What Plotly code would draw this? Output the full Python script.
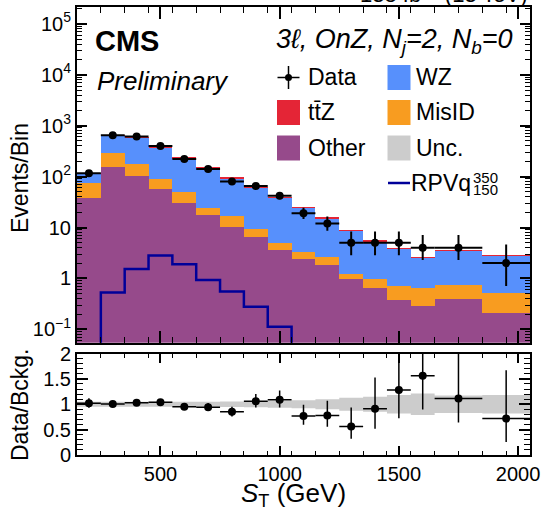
import plotly.graph_objects as go
import numpy as np

# ---------------- data ----------------
bin_edges = [150, 250, 350, 450, 550, 650, 750, 850, 950, 1050, 1150, 1250, 1350, 1450, 1550, 1650, 1850, 2050]
bin_centers = [200, 300, 400, 500, 600, 700, 800, 900, 1000, 1100, 1200, 1300, 1400, 1500, 1600, 1750, 1950]
bin_halfwidths = [50, 50, 50, 50, 50, 50, 50, 50, 50, 50, 50, 50, 50, 50, 50, 100, 100]

data_counts = [116, 648, 610, 400, 222, 141, 80, 65, 42, 19, 12, 5, 5, 5, 4, 4, 2]
data_err_up = [11.3, 26.0, 25.2, 20.5, 15.4, 12.4, 9.5, 8.6, 7.0, 5.4, 4.5, 3.38, 3.38, 3.38, 3.16, 3.16, 2.64]
data_err_dn = [10.3, 25.0, 24.2, 19.5, 14.4, 11.4, 8.4, 7.6, 6.0, 4.3, 3.4, 2.16, 2.16, 2.16, 1.70, 1.70, 1.29]

bkg_other = [38.7, 157, 103, 56.5, 30.0, 17.7, 10.3, 6.6, 3.6, 2.4, 1.8, 0.96, 0.66, 0.38, 0.29, 0.39, 0.21]
bkg_misid = [35.5, 131, 75, 32.4, 20.7, 6.6, 6.5, 2.8, 1.4, 0.9, 0.85, 0.28, 0.30, 0.33, 0.36, 0.34, 0.31]
bkg_wz = [38.5, 349.6, 408, 290.7, 180, 123.2, 76.3, 51.2, 33.1, 21.2, 12.6, 7.54, 4.46, 3.14, 1.88, 2.83, 2.24]
bkg_ttz = [1, 6, 6, 5, 3, 2, 1, 0.7, 0.4, 0.2, 0.15, 0.15, 0.07, 0.06, 0.03, 0.04, 0.02]

# signal (values below the visible range where the line drops off the axis)
sig_rpv = [0.001, 0.53, 1.54, 2.81, 1.90, 0.935, 0.551, 0.279, 0.113, 0.001, 0.001, 0.001, 0.001, 0.001, 0.001, 0.001, 0.001]

# relative background uncertainty
unc_rel = [0.05, 0.05, 0.05, 0.05, 0.05, 0.05, 0.055, 0.06, 0.07, 0.08, 0.10, 0.13, 0.15, 0.18, 0.21, 0.17, 0.18]

y_tickvals = [0.1, 1, 10, 100, 1000, 10000, 100000]
y_ticktext = ["10<sup>\u22121</sup>", "1", "10", "10<sup>2</sup>", "10<sup>3</sup>", "10<sup>4</sup>", "10<sup>5</sup>"]
x_tickvals = [500, 1000, 1500, 2000]
r_tickvals = [0, 0.5, 1, 1.5, 2]
r_ticktext = ["0", "0.5", "1", "1.5", "2"]

# ---------------- styling ----------------
C_OTHER = "#964a8b"
C_MISID = "#f89c20"
C_WZ = "#5790fc"
C_TTZ = "#e42536"
C_UNC = "#cccccc"
C_SIG = "#000099"
FONT = "Liberation Sans"

W, H = 545, 512
ML, MR, MT, MB = 77, 15, 7, 57
PW, PH = W - ML - MR, H - MT - MB


def px(x):
    return (x - ML) / PW


def py(y):
    return (H - MB - y) / PH


main_dom = [py(342.7), 1.0]
ratio_dom = [0.0, py(353.5)]

centers = np.array(bin_centers, dtype=float)
widths = 2 * np.array(bin_halfwidths, dtype=float)
total = np.array(bkg_other) + np.array(bkg_misid) + np.array(bkg_wz) + np.array(bkg_ttz)
ratio = np.array(data_counts) / total
ratio_up = np.array(data_err_up) / total
ratio_dn = np.array(data_err_dn) / total

fig = go.Figure()

for name, vals, col in [("Other", bkg_other, C_OTHER), ("MisID", bkg_misid, C_MISID),
                        ("WZ", bkg_wz, C_WZ), ("ttZ", bkg_ttz, C_TTZ)]:
    fig.add_trace(go.Bar(x=centers, y=vals, width=widths, marker=dict(color=col, line=dict(width=0)),
                         name=name, xaxis="x", yaxis="y", showlegend=False))

sig_y = list(sig_rpv) + [sig_rpv[-1]]
fig.add_trace(go.Scatter(x=bin_edges, y=sig_y, mode="lines", line=dict(color=C_SIG, width=2.5, shape="hv"),
                         xaxis="x", yaxis="y", showlegend=False))

fig.add_trace(go.Scatter(x=centers, y=data_counts, mode="markers",
                         marker=dict(color="black", size=8),
                         error_y=dict(type="data", array=data_err_up, arrayminus=data_err_dn,
                                      color="black", thickness=2, width=0),
                         error_x=dict(type="data", array=bin_halfwidths, color="black", thickness=2, width=0),
                         xaxis="x", yaxis="y", showlegend=False))

# ratio band
lo = list(1 - np.array(unc_rel)) + [1 - unc_rel[-1]]
hi = list(1 + np.array(unc_rel)) + [1 + unc_rel[-1]]
fig.add_trace(go.Scatter(x=bin_edges, y=lo, mode="lines", line=dict(width=0, shape="hv", color=C_UNC),
                         xaxis="x2", yaxis="y2", showlegend=False))
fig.add_trace(go.Scatter(x=bin_edges, y=hi, mode="lines", line=dict(width=0, shape="hv", color=C_UNC),
                         fill="tonexty", fillcolor=C_UNC, xaxis="x2", yaxis="y2", showlegend=False))

fig.add_trace(go.Scatter(x=centers, y=ratio, mode="markers",
                         marker=dict(color="black", size=8),
                         error_y=dict(type="data", array=ratio_up, arrayminus=ratio_dn,
                                      color="black", thickness=1.5, width=0),
                         error_x=dict(type="data", array=bin_halfwidths, color="black", thickness=1.5, width=0),
                         xaxis="x2", yaxis="y2", showlegend=False))

axis_common = dict(showline=True, linecolor="black", linewidth=2, mirror="allticks", ticks="inside",
                   tickcolor="black", tickwidth=1.5, showgrid=False, zeroline=False, automargin=False,
                   tickfont=dict(family=FONT, size=20, color="black"))

minor_log = [m * 10.0 ** e for e in range(-2, 6) for m in range(2, 10)]

fig.update_layout(
    width=W, height=H, margin=dict(l=ML, r=MR, t=MT, b=MB, autoexpand=False),
    paper_bgcolor="white", plot_bgcolor="white", barmode="stack", bargap=0,
    showlegend=False, hovermode=False,
    xaxis=dict(domain=[0, 1], range=[150, 2050], anchor="y", showticklabels=False,
               tickmode="array", tickvals=x_tickvals, ticklen=12,
               minor=dict(dtick=100, tick0=150, ticks="inside", ticklen=6, tickcolor="black", tickwidth=1),
               **axis_common),
    yaxis=dict(domain=main_dom, type="log", range=[-1.262, 5.33], anchor="x",
               tickmode="array", tickvals=y_tickvals, ticktext=y_ticktext, ticklen=10,
               minor=dict(tickmode="array", tickvals=minor_log, ticks="inside", ticklen=5,
                          tickcolor="black", tickwidth=1),
               **axis_common),
    xaxis2=dict(domain=[0, 1], range=[150, 2050], anchor="y2", showticklabels=True,
                tickmode="array", tickvals=x_tickvals, ticklen=9,
                minor=dict(dtick=100, tick0=150, ticks="inside", ticklen=4, tickcolor="black", tickwidth=1),
                **axis_common),
    yaxis2=dict(domain=ratio_dom, range=[0, 2], anchor="x2",
                tickmode="array", tickvals=r_tickvals, ticktext=r_ticktext, ticklen=11,
                minor=dict(dtick=0.1, tick0=0, ticks="inside", ticklen=6, tickcolor="black", tickwidth=1),
                **axis_common),
)

ann = []
shapes = []


def text(x, y, s, size, xanchor="left", yanchor="middle", angle=0):
    ann.append(dict(x=px(x), y=py(y), xref="paper", yref="paper", text=s, showarrow=False,
                    xanchor=xanchor, yanchor=yanchor, textangle=angle,
                    font=dict(family=FONT, size=size, color="black")))


text(93, 41, "<b>CMS</b>", 29)
text(95, 81, "<i>Preliminary</i>", 26)
text(515, 41, "<i>3\u2113, OnZ, N<sub>j</sub>=2, N<sub>b</sub>=0</i>", 27, xanchor="right")
text(530, 9, "138 fb<sup>\u22121</sup> (13 TeV)", 22, xanchor="right", yanchor="bottom")

# axis titles
text(20, 178, "Events/Bin", 23, xanchor="center", angle=-90)
text(20, 405, "Data/Bckg.", 23, xanchor="center", angle=-90)
text(293, 494, "<i>S</i><sub>T</sub> (GeV)", 26, xanchor="center")

# legend
rows = [77.5, 112.5, 148, 183]
c1s, c1t = 288.5, 306
c2s, c2t = 399, 414


def swatch(cx, cy, col):
    shapes.append(dict(type="rect", xref="paper", yref="paper", x0=px(cx - 11.5), x1=px(cx + 11.5),
                       y0=py(cy + 12.5), y1=py(cy - 12.5), fillcolor=col, line=dict(width=0)))


# Data entry
shapes.append(dict(type="line", xref="paper", yref="paper", x0=px(c1s - 11), x1=px(c1s + 11),
                   y0=py(rows[0]), y1=py(rows[0]), line=dict(color="black", width=1.5)))
shapes.append(dict(type="line", xref="paper", yref="paper", x0=px(c1s), x1=px(c1s),
                   y0=py(rows[0] - 11.5), y1=py(rows[0] + 11.5), line=dict(color="black", width=1.5)))
shapes.append(dict(type="circle", xref="paper", yref="paper", x0=px(c1s - 3.5), x1=px(c1s + 3.5),
                   y0=py(rows[0] + 3.5), y1=py(rows[0] - 3.5), fillcolor="black", line=dict(width=0)))
text(c1t, rows[0], "Data", 23)
swatch(c1s, rows[1], C_TTZ)
text(c1t, rows[1], "t\u0074\u0304Z", 23)
swatch(c1s, rows[2], C_OTHER)
text(c1t, rows[2], "Other", 23)

swatch(c2s, rows[0], C_WZ)
text(c2t, rows[0], "WZ", 23)
swatch(c2s, rows[1], C_MISID)
text(c2t, rows[1], "MisID", 23)
swatch(c2s, rows[2], C_UNC)
text(c2t, rows[2], "Unc.", 23)
shapes.append(dict(type="line", xref="paper", yref="paper", x0=px(c2s - 11), x1=px(c2s + 11),
                   y0=py(rows[3]), y1=py(rows[3]), line=dict(color=C_SIG, width=2.5)))
text(c2t - 5, rows[3], "RPVq", 23)
text(471, 177, "350", 15)
text(471, 189, "150", 15)

fig.update_layout(annotations=ann, shapes=shapes)
fig.write_html("out.html", config={"displayModeBar": False},
               post_script="document.body.style.margin='0px';")
